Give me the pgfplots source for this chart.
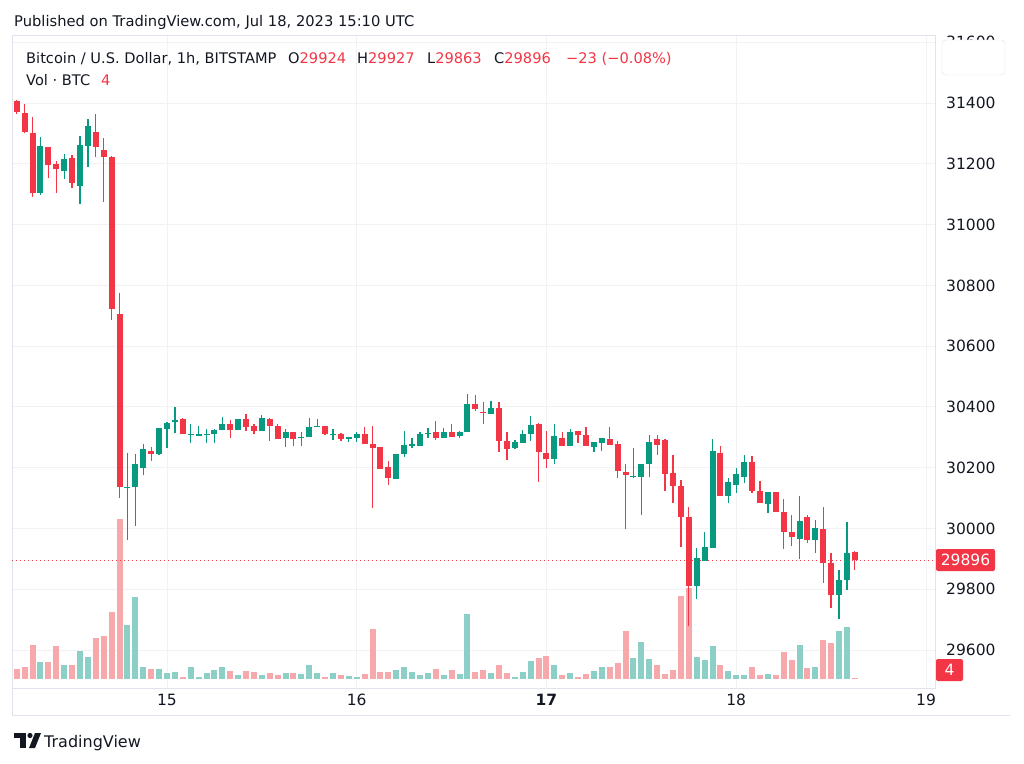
\documentclass[border=0pt]{standalone}
\usepackage{fontspec}
\setmainfont{DejaVu Sans}
\usepackage{pgfplots}
\usepackage{pgfplotstable}
\pgfplotsset{compat=1.18}
\definecolor{cred}{RGB}{242,54,69}
\definecolor{cgreen}{RGB}{8,153,129}
\definecolor{vred}{RGB}{247,168,170}
\definecolor{vgreen}{RGB}{140,207,198}
\definecolor{txt}{RGB}{19,23,34}
\definecolor{gridc}{RGB}{240,242,246}
\definecolor{framec}{RGB}{224,227,235}

% hour (0 = Jul 15 00:00 UTC), open, high, low, close, volume (px units)
\pgfplotstableread{
h o hi lo c v
-19 31407 31410 31363 31369 10
-18 31366 31396 31300 31304 12.3
-17 31302 31355 31090 31103 34
-15 31254 31256 31152 31196 17.3
-14 31198 31209 31103 31182 33.3
-12 31220 31229 31119 31138 13.7
-9 31306 31363 31221 31254 41
-8 31245 31284 31075 31221 42.7
-7 31221 31224 30686 30722 67
-6 30706 30776 30100 30138 159.7
-2 30255 30269 30223 30246 10
2 30360 30365 30310 30310 2
8 30345 30356 30299 30324 7.7
10 30360 30377 30321 30334 8.3
11 30336 30345 30310 30321 7
13 30360 30363 30288 30338 6.3
14 30337 30343 30294 30294 4.3
16 30316 30316 30272 30294 5.7
20 30337 30338 30308 30312 2.3
22 30310 30314 30288 30294 4.3
25 30310 30335 30277 30277 5
26 30277 30337 30069 30264 50.3
27 30269 30269 30196 30196 7
28 30202 30222 30143 30165 7
34 30316 30354 30291 30297 10
36 30319 30344 30300 30300 9
39 30410 30439 30387 30392 7
40 30384 30415 30343 30380 9
42 30398 30415 30251 30289 14
43 30289 30316 30225 30261 5.7
47 30343 30346 30154 30251 20.7
48 30248 30321 30200 30228 23
50 30297 30316 30272 30272 3.7
52 30322 30322 30281 30308 2.3
53 30308 30333 30272 30272 5
56 30295 30333 30275 30275 11.7
57 30277 30288 30167 30190 16.3
58 30185 30211 29997 30176 48.3
62 30294 30308 30242 30275 14
63 30291 30294 30124 30180 5
64 30182 30242 30085 30141 9
65 30140 30160 29938 30039 83
66 30037 30070 29678 29811 90.7
70 30248 30272 30107 30107 14
74 30220 30237 30116 30124 11.7
75 30125 30157 30083 30083 3.7
77 30121 30121 30053 30053 3.7
78 30053 30096 29932 29990 27.3
79 29990 30045 29941 29971 19.3
81 30039 30045 29954 29962 11.3
83 29997 30072 29820 29888 38.7
84 29888 29919 29737 29781 36
87 29924 29927 29863 29896 1.3
}\redtab

\pgfplotstableread{
h o hi lo c v
-16 31103 31287 31097 31259 16.7
-13 31176 31231 31150 31216 13.7
-11 31128 31290 31068 31262 28
-10 31260 31347 31190 31325 22.3
-5 30133 30249 29962 30138 53.7
-4 30136 30244 30008 30211 82
-3 30200 30277 30176 30261 12.3
-1 30244 30330 30243 30330 9.7
0 30326 30351 30264 30348 5.7
1 30352 30401 30313 30356 7
3 30308 30343 30281 30312 11.7
4 30306 30338 30304 30310 2.3
5 30308 30326 30281 30312 6.3
6 30310 30326 30283 30323 9
7 30323 30367 30323 30345 11.7
9 30324 30360 30324 30360 3.7
12 30321 30374 30321 30363 3.7
15 30297 30326 30269 30316 5.7
17 30297 30319 30272 30301 5
18 30301 30363 30301 30334 13.7
19 30334 30359 30334 30338 5.7
21 30308 30327 30291 30312 6.3
23 30296 30301 30285 30300 3
24 30297 30319 30286 30310 1.7
29 30162 30245 30162 30245 9
30 30245 30321 30234 30275 12
31 30273 30297 30264 30277 7
32 30272 30316 30272 30310 4.3
33 30310 30330 30297 30314 6.3
35 30297 30330 30297 30316 4.3
37 30304 30321 30297 30319 5
38 30319 30442 30319 30410 65
41 30377 30420 30377 30398 6.3
44 30264 30290 30262 30284 2.3
45 30283 30324 30283 30310 7
46 30310 30370 30289 30341 17.7
49 30229 30343 30212 30306 13.7
51 30272 30326 30270 30319 5.7
54 30269 30286 30253 30286 7.7
55 30281 30297 30255 30297 12
59 30170 30266 30167 30174 20.7
60 30171 30211 30043 30211 37.3
61 30213 30308 30171 30286 20
67 29811 29935 29767 29902 22
68 29894 29990 29894 29938 19.3
69 29935 30294 29935 30256 32.7
71 30108 30167 30083 30154 8.3
72 30143 30198 30118 30178 4.3
73 30168 30242 30151 30220 4.3
76 30081 30121 30052 30121 5
80 29965 30107 29899 30025 33.7
82 29962 30028 29921 30001 11.7
85 29781 29864 29701 29831 48.3
86 29829 30023 29798 29919 51.7
}\greentab

\pgfplotsset{
  ebar/.style 2 args={draw=none, mark=none,
    error bars/.cd, y dir=plus, y explicit, error mark=none,
    error bar style={draw=#1, line width=#2, line cap=butt, solid}},
}

\begin{document}
\begin{tikzpicture}[x=1pt,y=1pt]
\begin{axis}[
  width=923pt, height=653pt, scale only axis,
  xmin=-19.6, xmax=97.14, ymin=29475.3, ymax=31623.7,
  axis line style={draw=framec},
  xtick={0,24,48,72,96},
  xticklabels={15,16,\textbf{17},18,19},
  ytick={29600,29800,30000,30200,30400,30600,30800,31000,31200,31400,31600},
  yticklabels={29600,29800,30000,30200,30400,30600,30800,31000,31200,31400,31600},
  scaled ticks=false,
  yticklabel pos=right,
  major tick length=0pt,
  grid=major, grid style={draw=gridc, line width=0.9pt},
  ticklabel style={font=\fontsize{15.5}{18}\selectfont, text=txt},
  xticklabel style={anchor=north, inner sep=0pt, yshift=-6pt},
  yticklabel style={anchor=west, inner sep=0pt, xshift=11pt},
]
% volume
\addplot[ebar={vred}{6pt}] table[x=h, y expr=29504.6, y error expr=\thisrow{v}*3.2906] {\redtab};
\addplot[ebar={vgreen}{6pt}] table[x=h, y expr=29504.6, y error expr=\thisrow{v}*3.2906] {\greentab};
% last price line
\addplot[cred, line width=0.9pt, dash pattern=on 1.4pt off 2.6pt] coordinates {(-19.6,29896) (97.14,29896)};
% wicks
\addplot[ebar={cred}{1.3pt}] table[x=h, y=lo, y error expr=\thisrow{hi}-\thisrow{lo}] {\redtab};
\addplot[ebar={cgreen}{1.3pt}] table[x=h, y=lo, y error expr=\thisrow{hi}-\thisrow{lo}] {\greentab};
% bodies
\addplot[ebar={cred}{6pt}] table[x=h, y=c, y error expr=\thisrow{o}-\thisrow{c}] {\redtab};
\addplot[ebar={cgreen}{6pt}] table[x=h, y=o, y error expr=\thisrow{c}-\thisrow{o}] {\greentab};
\coordinate (O) at (rel axis cs:0,0);
\end{axis}
\begin{scope}[shift={(O)}, xshift=-12pt, yshift=-75pt]
\pgfresetboundingbox
\path[use as bounding box] (0,0) rectangle (1024,763);
% outer frame continuation (time scale row)
\draw[framec, line width=0.8pt] (12,75) -- (12,48) -- (1010,48);
% header texts
\node[anchor=base west, inner sep=0, text=txt, font=\fontsize{14.7}{18}\selectfont] at (14,736) {Published on TradingView.com, Jul 18, 2023 15:10 UTC};
\begin{scope}[every node/.style={anchor=base west, inner sep=0, text=txt, font=\fontsize{14.6}{17}\selectfont}]
\node at (26,699) {Bitcoin / U.S. Dollar, 1h, BITSTAMP};
\node at (288,699) {O\textcolor{cred}{29924}};
\node at (357,699) {H\textcolor{cred}{29927}};
\node at (427,699) {L\textcolor{cred}{29863}};
\node at (494,699) {C\textcolor{cred}{29896}};
\node at (566,699) {\textcolor{cred}{−23 (−0.08\%)}};
\node at (26,677) {Vol · BTC};
\node at (101,677) {\textcolor{cred}{4}};
\end{scope}
% price labels
\node[fill=cred, text=white, rounded corners=2pt, minimum height=22pt, minimum width=59pt, inner sep=0, font=\fontsize{15.5}{18}\selectfont] at (965.5,203) {29896};
\node[fill=cred, text=white, rounded corners=2pt, minimum height=22pt, minimum width=27pt, inner sep=0, font=\fontsize{15.5}{18}\selectfont] at (949.5,93) {4};
% top-right button
\draw[framec, fill=white, rounded corners=4pt] (942,688) rectangle (1005,723);
% logo
\fill[txt] (14,25) rectangle (26,30);
\fill[txt] (20,15) rectangle (26,25);
\fill[txt] (30,27.5) circle (2.6);
\fill[txt] (29,15) -- (35,30) -- (41,30) -- (35,15) -- cycle;
\node[anchor=base west, inner sep=0, text=txt, font=\fontsize{16}{20}\selectfont] at (44,16) {TradingView};
\end{scope}
\end{tikzpicture}
\end{document}
